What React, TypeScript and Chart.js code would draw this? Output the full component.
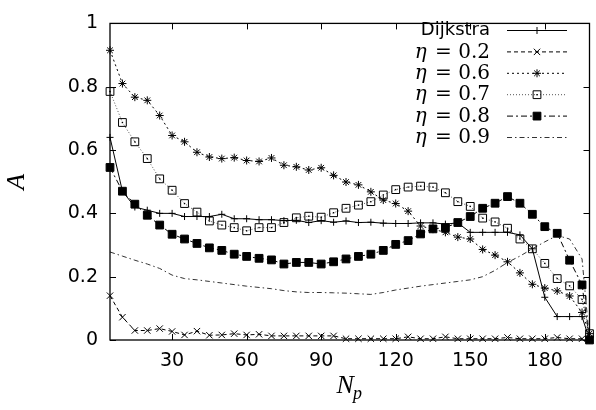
import React, { useEffect, useRef } from 'react';
import { Chart, registerables } from 'chart.js';

Chart.register(...registerables);

// ---- data ----
const Np = [5, 10, 15, 20, 25, 30, 35, 40, 45, 50, 55, 60, 65, 70, 75, 80, 85, 90, 95, 100,
  105, 110, 115, 120, 125, 130, 135, 140, 145, 150, 155, 160, 165, 170, 175, 180, 185, 190, 195, 198];

const dijkstra = [0.64, 0.47, 0.42, 0.41, 0.4, 0.4, 0.39, 0.39, 0.39, 0.397, 0.383, 0.383, 0.38, 0.38, 0.377,
  0.378, 0.371, 0.377, 0.372, 0.376, 0.371, 0.372, 0.369, 0.368, 0.368, 0.37, 0.37, 0.366, 0.37, 0.34,
  0.34, 0.34, 0.34, 0.332, 0.288, 0.135, 0.074, 0.074, 0.074, 0.0];

const eta02 = [0.14, 0.072, 0.03, 0.03, 0.036, 0.027, 0.016, 0.028, 0.015, 0.016, 0.02, 0.016, 0.018, 0.013,
  0.013, 0.013, 0.013, 0.013, 0.013, 0.004, 0.004, 0.004, 0.004, 0.004, 0.01, 0.004, 0.004, 0.01, 0.004,
  0.004, 0.004, 0.004, 0.008, 0.004, 0.004, 0.004, 0.008, 0.004, 0.004, 0.004];

const eta06 = [0.915, 0.81, 0.767, 0.757, 0.709, 0.646, 0.626, 0.593, 0.578, 0.573, 0.576, 0.567, 0.564, 0.575,
  0.552, 0.547, 0.537, 0.544, 0.52, 0.499, 0.49, 0.468, 0.442, 0.431, 0.407, 0.36, 0.35, 0.34, 0.325, 0.319,
  0.286, 0.268, 0.247, 0.212, 0.176, 0.164, 0.155, 0.139, 0.087, 0.02];

const eta07 = [0.785, 0.687, 0.626, 0.573, 0.509, 0.473, 0.431, 0.404, 0.376, 0.363, 0.355, 0.345, 0.355, 0.355,
  0.371, 0.386, 0.391, 0.388, 0.402, 0.416, 0.426, 0.437, 0.458, 0.475, 0.483, 0.486, 0.483, 0.465, 0.437,
  0.422, 0.385, 0.373, 0.353, 0.319, 0.288, 0.242, 0.194, 0.171, 0.128, 0.02];

const eta08 = [0.545, 0.47, 0.429, 0.394, 0.363, 0.334, 0.319, 0.305, 0.291, 0.283, 0.271, 0.264, 0.258, 0.253,
  0.24, 0.245, 0.245, 0.24, 0.247, 0.256, 0.264, 0.271, 0.283, 0.302, 0.314, 0.335, 0.351, 0.355, 0.371,
  0.39, 0.416, 0.432, 0.453, 0.432, 0.397, 0.358, 0.337, 0.252, 0.174, 0.0];

const eta09 = [0.278, 0.265, 0.252, 0.24, 0.226, 0.205, 0.194, 0.19, 0.185, 0.18, 0.175, 0.17, 0.166, 0.162,
  0.156, 0.152, 0.15, 0.15, 0.149, 0.148, 0.146, 0.144, 0.15, 0.158, 0.164, 0.17, 0.175, 0.18, 0.185, 0.19,
  0.2, 0.22, 0.245, 0.265, 0.288, 0.31, 0.33, 0.319, 0.256, 0.0];

const seriesLabels = ['Dijkstra', 'η = 0.2', 'η = 0.6', 'η = 0.7', 'η = 0.8', 'η = 0.9'];
const xTicks = [30, 60, 90, 120, 150, 180];
const yTicks = [0, 0.2, 0.4, 0.6, 0.8, 1];
const xTitle = ['N', 'p'];
const yTitle = 'A';

// ---- marker drawing for legend ----
function drawMarker(ctx: CanvasRenderingContext2D, style: string, x: number, y: number, r: number, fill: string, stroke: string) {
  ctx.save();
  ctx.setLineDash([]);
  ctx.strokeStyle = stroke;
  ctx.lineWidth = 1;
  ctx.beginPath();
  const d = r * Math.SQRT1_2;
  if (style === 'cross' || style === 'star') {
    ctx.moveTo(x - r, y); ctx.lineTo(x + r, y);
    ctx.moveTo(x, y - r); ctx.lineTo(x, y + r);
  }
  if (style === 'crossRot' || style === 'star') {
    ctx.moveTo(x - d, y - d); ctx.lineTo(x + d, y + d);
    ctx.moveTo(x - d, y + d); ctx.lineTo(x + d, y - d);
  }
  if (style === 'rect') {
    ctx.rect(x - d, y - d, 2 * d, 2 * d);
    if (fill && fill !== 'rgba(0,0,0,0)') { ctx.fillStyle = fill; ctx.fill(); }
  }
  ctx.stroke();
  ctx.restore();
}

const decorPlugin = {
  id: 'decor',
  afterDatasetsDraw(chart: any) {
    // centre dots of the open squares
    const ctx = chart.ctx;
    const meta = chart.getDatasetMeta(3);
    ctx.save();
    ctx.fillStyle = '#000';
    meta.data.forEach((p: any) => ctx.fillRect(p.x - 0.7, p.y - 0.7, 1.4, 1.4));
    ctx.restore();
  },
  afterDraw(chart: any) {
    const { ctx, chartArea: a, scales } = chart;
    ctx.save();
    // frame
    ctx.strokeStyle = '#000';
    ctx.lineWidth = 1.3;
    ctx.setLineDash([]);
    ctx.strokeRect(a.left, a.top, a.right - a.left, a.bottom - a.top);
    // inward ticks on all sides
    const L = 6;
    ctx.lineWidth = 1;
    ctx.beginPath();
    xTicks.forEach((v) => {
      const px = Math.round(scales.x.getPixelForValue(v)) + 0.5;
      ctx.moveTo(px, a.bottom); ctx.lineTo(px, a.bottom - L);
      ctx.moveTo(px, a.top); ctx.lineTo(px, a.top + L);
    });
    yTicks.forEach((v) => {
      const py = Math.round(scales.y.getPixelForValue(v)) + 0.5;
      ctx.moveTo(a.left, py); ctx.lineTo(a.left + L, py);
      ctx.moveTo(a.right, py); ctx.lineTo(a.right - L, py);
    });
    ctx.stroke();

    // axis titles
    ctx.fillStyle = '#000';
    ctx.textBaseline = 'alphabetic';
    const cx = (a.left + a.right) / 2;
    ctx.font = 'italic 26px "Liberation Serif"';
    const wN = ctx.measureText(xTitle[0]).width;
    ctx.font = 'italic 18px "Liberation Serif"';
    const wp = ctx.measureText(xTitle[1]).width;
    const x0 = cx - (wN + wp) / 2;
    ctx.font = 'italic 26px "Liberation Serif"';
    ctx.textAlign = 'left';
    ctx.fillText(xTitle[0], x0, 393);
    ctx.font = 'italic 18px "Liberation Serif"';
    ctx.fillText(xTitle[1], x0 + wN - 1, 399);

    ctx.save();
    ctx.translate(24, (a.top + a.bottom) / 2);
    ctx.rotate(-Math.PI / 2);
    ctx.textAlign = 'center';
    ctx.font = 'italic 26px "Liberation Serif"';
    ctx.fillText(yTitle, 0, 0);
    ctx.restore();

    // legend (text right-aligned, sample on the right)
    const textRight = 490;
    const sx0 = 507, sx1 = 567;
    chart.data.datasets.forEach((ds: any, k: number) => {
      const y = 30 + k * 21.4;
      ctx.textBaseline = 'middle';
      ctx.textAlign = 'right';
      const label: string = ds.label;
      if (label.startsWith('η')) {
        const rest = label.slice(1);
        ctx.font = '20px "DejaVu Serif"';
        ctx.fillText(rest, textRight, y + 1);
        const w = ctx.measureText(rest).width;
        ctx.font = 'italic 20px "DejaVu Serif"';
        ctx.fillText('η', textRight - w - 2, y + 1);
      } else {
        ctx.font = '18px "DejaVu Sans"';
        ctx.fillText(label, textRight, y);
      }
      ctx.strokeStyle = ds.borderColor;
      ctx.lineWidth = ds.borderWidth;
      ctx.setLineDash(ds.borderDash || []);
      ctx.beginPath();
      ctx.moveTo(sx0, y + 0.5); ctx.lineTo(sx1, y + 0.5);
      ctx.stroke();
      if (ds.pointRadius > 0) {
        drawMarker(ctx, ds.pointStyle, (sx0 + sx1) / 2, y + 0.5, ds.pointRadius, ds.pointBackgroundColor, ds.pointBorderColor);
        if (k === 3) { ctx.fillStyle = '#000'; ctx.fillRect((sx0 + sx1) / 2 - 0.7, y - 0.2, 1.4, 1.4); }
      }
    });
    ctx.restore();
  },
};

function mk(label: string, values: number[], extra: any) {
  return {
    label,
    data: Np.map((x, i) => ({ x, y: values[i] })),
    borderColor: '#000',
    borderWidth: 1,
    pointBorderColor: '#000',
    pointBackgroundColor: '#000',
    pointBorderWidth: 1,
    fill: false,
    tension: 0,
    clip: false,
    ...extra,
  };
}

export default function App() {
  const ref = useRef<HTMLCanvasElement>(null);
  useEffect(() => {
    if (!ref.current) return;
    const tickFont = { family: '"DejaVu Sans"', size: 19 };
    const chart = new Chart(ref.current, {
      type: 'line',
      data: {
        datasets: [
          mk(seriesLabels[0], dijkstra, { pointStyle: 'cross', pointRadius: 3.5, borderDash: [] }),
          mk(seriesLabels[1], eta02, { pointStyle: 'crossRot', pointRadius: 4.5, borderDash: [4, 3] }),
          mk(seriesLabels[2], eta06, { pointStyle: 'star', pointRadius: 4, borderDash: [2, 3] }),
          mk(seriesLabels[3], eta07, { pointStyle: 'rect', pointRadius: 5.5, borderDash: [1, 2], borderColor: '#555', pointBackgroundColor: 'rgba(0,0,0,0)' }),
          mk(seriesLabels[4], eta08, { pointStyle: 'rect', pointRadius: 5.5, borderDash: [6, 3, 2, 3] }),
          mk(seriesLabels[5], eta09, { pointStyle: 'circle', pointRadius: 0, borderDash: [5, 3, 1.5, 3], borderColor: '#333' }),
        ],
      },
      options: {
        animation: false,
        responsive: false,
        devicePixelRatio: 1,
        layout: { padding: { top: 14, right: 4, left: 0, bottom: 0 } },
        plugins: { legend: { display: false }, tooltip: { enabled: false } },
        scales: {
          x: {
            type: 'linear',
            min: 5,
            max: 198,
            grid: { display: false, drawTicks: false },
            border: { display: false },
            afterBuildTicks: (s: any) => { s.ticks = xTicks.map((v) => ({ value: v })); },
            afterFit: (s: any) => { s.height = 70; },
            ticks: { font: tickFont, color: '#000', padding: 10, maxRotation: 0, autoSkip: false, callback: (v: any) => String(v) },
          },
          y: {
            type: 'linear',
            min: 0,
            max: 1,
            grid: { display: false, drawTicks: false },
            border: { display: false },
            afterBuildTicks: (s: any) => { s.ticks = yTicks.map((v) => ({ value: v })); },
            afterFit: (s: any) => { s.width = 110; },
            ticks: { font: tickFont, color: '#000', padding: 12, autoSkip: false, callback: (v: any) => String(v) },
          },
        },
      } as any,
      plugins: [decorPlugin],
    });
    return () => chart.destroy();
  }, []);
  return (
    <div style={{ position: 'absolute', left: 0, top: 0, width: 596, height: 410, background: '#fff' }}>
      <canvas ref={ref} width={596} height={410} />
    </div>
  );
}
